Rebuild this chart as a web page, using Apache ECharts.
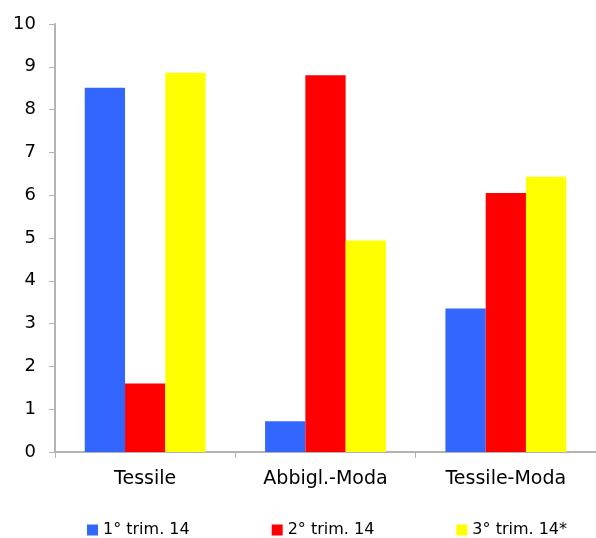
<!DOCTYPE html>
<html>
<head>
<meta charset="utf-8">
<script src="https://cdn.jsdelivr.net/npm/echarts@6/dist/echarts.min.js"></script>
<style>
  html, body { margin: 0; padding: 0; background: #fff; }
  #chart { width: 596px; height: 538px; }
</style>
</head>
<body>
<div id="chart"></div>
<script>
const categories = ['Tessile', 'Abbigl.-Moda', 'Tessile-Moda']
const seriesNames = ['1° trim. 14', '2° trim. 14', '3° trim. 14*']
const trim1 = [8.51, 0.72, 3.35]
const trim2 = [1.60, 8.80, 6.05]
const trim3 = [8.86, 4.94, 6.43]
const colors = ['#3366ff', '#ff0000', '#ffff00']

const font = 'DejaVu Sans, Arial, sans-serif'
const chart = echarts.init(document.getElementById('chart'))

chart.setOption({
  animation: false,
  color: colors,
  textStyle: { fontFamily: font },
  grid: { left: 55, top: 24, width: 546, bottom: 86 },
  legend: {
    data: seriesNames,
    top: 517,
    left: 82,
    itemWidth: 11,
    itemHeight: 11,
    itemGap: 82,
    icon: 'rect',
    textStyle: { fontSize: 16, color: '#000', fontFamily: font }
  },
  xAxis: {
    type: 'category',
    data: categories,
    axisLine: { lineStyle: { color: '#b3b3b3', width: 2 } },
    axisTick: { show: true, length: 6, lineStyle: { color: '#b3b3b3' } },
    axisLabel: { color: '#000', fontSize: 19, margin: 18, fontFamily: font }
  },
  yAxis: {
    type: 'value',
    min: 0,
    max: 10,
    interval: 1,
    axisLine: { show: true, lineStyle: { color: '#b3b3b3', width: 2 } },
    axisTick: { show: true, length: 6, lineStyle: { color: '#b3b3b3' } },
    splitLine: { show: false },
    axisLabel: { color: '#000', fontSize: 18, margin: 19, fontFamily: font }
  },
  series: [
    { name: seriesNames[0], type: 'bar', data: trim1, barGap: '0%', barCategoryGap: '33%' },
    { name: seriesNames[1], type: 'bar', data: trim2, barGap: '0%', barCategoryGap: '33%' },
    { name: seriesNames[2], type: 'bar', data: trim3, barGap: '0%', barCategoryGap: '33%' }
  ]
})
</script>
</body>
</html>
